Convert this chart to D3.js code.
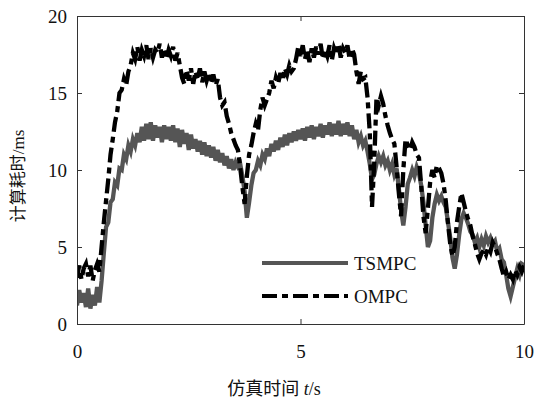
<!DOCTYPE html>
<html>
<head>
<meta charset="utf-8">
<script src="https://cdn.jsdelivr.net/npm/d3@7"></script>
<style>
  body { margin: 0; background: #fff; }
  svg text { font-family: "Liberation Serif", "Times New Roman", "Noto Sans CJK SC", serif; fill: #111; }
</style>
</head>
<body>
<svg id="chart" width="543" height="401"></svg>
<script>
// sample step of the simulation time axis (s)
const timeStep = 0.05;

// TSMPC computation time (ms), one value every 0.05 s from 0 to 10 s
const tsmpc = [
  1.2, 2.2, 1.4, 2.0, 1.1, 2.3, 1.0, 1.9, 1.2, 2.4, 1.4, 2.8, 4.6, 6.3, 6.6, 7.9, 8.1, 9.2, 9.0, 10.1,
  10.0, 11.0, 10.7, 11.6, 11.2, 12.0, 11.6, 12.4, 11.8, 12.8, 11.9, 13.0, 12.0, 13.1, 11.9, 12.9, 12.1, 12.8, 11.8, 12.9,
  12.0, 12.8, 11.9, 12.9, 11.8, 12.7, 11.5, 12.6, 11.7, 12.4, 11.3, 12.3, 11.4, 12.0, 11.2, 11.9, 11.0, 11.8, 10.9, 11.6,
  10.8, 11.5, 10.6, 11.3, 10.5, 11.1, 10.3, 10.9, 10.1, 10.7, 10.0, 10.5, 10.2, 10.4, 9.6, 8.6, 6.9, 7.9, 9.0, 9.8,
  10.0, 10.6, 10.3, 11.0, 10.7, 11.4, 10.9, 11.7, 11.2, 11.9, 11.3, 12.1, 11.5, 12.3, 11.6, 12.4, 11.8, 12.5, 11.9, 12.6,
  12.0, 12.7, 11.9, 12.8, 12.1, 12.9, 12.0, 12.8, 12.2, 13.0, 12.1, 12.9, 12.3, 13.1, 12.2, 13.0, 12.3, 13.2, 12.2, 13.0,
  12.3, 13.1, 12.2, 12.9, 12.0, 12.6, 11.8, 12.2, 11.6, 11.9, 11.2, 10.4, 9.4, 9.7, 10.4, 10.9, 10.5, 10.9, 10.3, 10.6,
  10.0, 10.4, 9.7, 10.1, 8.8, 7.4, 6.4, 7.6, 9.1, 9.5, 10.0, 9.6, 10.2, 9.8, 9.0, 7.9, 6.4, 5.0, 5.4, 6.9,
  7.8, 8.4, 8.0, 8.3, 7.9, 7.6, 6.6, 5.6, 4.3, 3.6, 4.5, 5.8, 6.8, 7.2, 6.9, 6.5, 6.0, 5.8, 5.3, 5.6,
  5.0, 5.5, 5.1, 5.7, 5.3, 5.6, 5.2, 5.4, 4.7, 4.9, 4.2, 4.0, 3.2, 2.3, 1.8, 2.4, 3.0, 3.6, 3.2, 3.9,
  3.8
];

// OMPC computation time (ms), same sampling
const ompc = [
  3.0, 3.8, 2.9, 3.6, 3.9, 3.1, 3.8, 2.8, 3.5, 3.9, 3.4, 5.0, 6.6, 8.0, 9.4, 11.0, 12.0, 13.1, 13.8, 15.0,
  15.2, 15.9, 15.5, 16.4, 16.8, 17.6, 17.2, 18.0, 17.1, 17.8, 17.4, 18.1, 17.2, 17.9, 17.3, 17.8, 17.6, 18.2, 17.3, 17.9,
  17.2, 17.8, 17.4, 18.0, 17.1, 17.6, 16.8, 16.0, 15.6, 16.5, 15.8, 16.6, 15.6, 16.4, 15.9, 16.6, 15.7, 16.4, 15.8, 16.3,
  15.6, 16.2, 15.5, 15.9, 14.7, 14.2, 14.4, 13.5, 13.0, 12.4, 12.0, 11.6, 11.3, 10.2, 8.9, 7.8, 9.6, 11.0, 11.6, 12.4,
  13.0, 12.6, 13.9, 14.7, 14.2, 14.6, 15.0, 15.8, 15.3, 16.0, 15.6, 16.3, 15.8, 16.6, 16.2, 16.8, 16.4, 16.6, 17.2, 18.0,
  17.4, 18.1, 17.2, 17.8, 17.0, 17.9, 17.3, 18.0, 17.5, 18.2, 17.2, 17.8, 17.4, 18.1, 17.1, 17.9, 17.5, 18.2, 17.3, 17.9,
  17.6, 18.1, 17.2, 17.9, 17.5, 16.4, 15.6, 16.4, 15.9, 16.0, 14.7, 12.4, 7.6, 10.5, 14.7, 14.2, 14.8, 14.3, 13.5, 12.9,
  12.4, 12.0, 11.7, 10.2, 8.5, 7.0, 10.0, 12.0, 11.6, 11.3, 11.8, 11.5, 11.0, 10.8, 9.0, 7.0, 5.9, 7.5, 9.2, 10.0,
  9.5, 10.3, 10.1, 9.8, 9.1, 8.0, 6.5, 5.2, 4.4, 5.0, 6.6, 7.6, 8.5, 7.9, 7.3, 6.8, 6.4, 5.7, 5.2, 4.6,
  4.2, 4.6, 4.8, 4.5, 5.0, 4.7, 5.3, 5.0, 4.6, 4.2, 3.6, 3.1, 3.4, 2.9, 3.2, 2.9, 3.5, 3.2, 3.7, 3.4,
  3.8
];

const xTicks = [0, 5, 10];
const yTicks = [0, 5, 10, 15, 20];
const seriesNames = ["TSMPC", "OMPC"];

const svg = d3.select("#chart");
const margin = { top: 16, right: 19, bottom: 77, left: 77 };
const width = 543, height = 401;

const x = d3.scaleLinear().domain([0, 10]).range([margin.left, width - margin.right]);
const y = d3.scaleLinear().domain([0, 20]).range([height - margin.bottom, margin.top]);

// clip lines to the plot box
svg.append("clipPath").attr("id", "plotClip")
  .append("rect")
  .attr("x", x(0)).attr("y", y(20))
  .attr("width", x(10) - x(0)).attr("height", y(0) - y(20));

const toPoints = arr => arr.map((v, i) => ({ t: i * timeStep, v: v }));
const line = d3.line().x(d => x(d.t)).y(d => y(d.v));

const styles = {
  TSMPC: { stroke: "#555", width: 4.3, dash: null },
  OMPC: { stroke: "#000", width: 4.3, dash: "15,5,6,5" }
};

const plot = svg.append("g").attr("clip-path", "url(#plotClip)");
plot.append("path")
  .datum(toPoints(tsmpc))
  .attr("fill", "none")
  .attr("stroke", styles.TSMPC.stroke)
  .attr("stroke-width", styles.TSMPC.width)
  .attr("d", line);
plot.append("path")
  .datum(toPoints(ompc))
  .attr("fill", "none")
  .attr("stroke", styles.OMPC.stroke)
  .attr("stroke-width", styles.OMPC.width)
  .attr("stroke-dasharray", styles.OMPC.dash)
  .attr("d", line);

// axes, ticks pointing inward
const axisStyle = g => {
  g.select(".domain").attr("stroke", "#333");
  g.selectAll(".tick line").attr("stroke", "#333");
  g.selectAll("text").attr("font-size", 19).attr("fill", "#111")
    .attr("font-family", "'Liberation Serif', 'Times New Roman', serif");
};

svg.append("g")
  .attr("transform", `translate(0,${y(0)})`)
  .call(d3.axisBottom(x).tickValues(xTicks).tickSizeInner(-5).tickSizeOuter(0).tickPadding(21))
  .call(axisStyle);
svg.append("g")
  .attr("transform", `translate(0,${y(20)})`)
  .call(d3.axisTop(x).tickValues(xTicks).tickSizeInner(-5).tickSizeOuter(0).tickFormat(""))
  .call(axisStyle);
svg.append("g")
  .attr("transform", `translate(${x(0)},0)`)
  .call(d3.axisLeft(y).tickValues(yTicks).tickSizeInner(-5).tickSizeOuter(0).tickPadding(10))
  .call(axisStyle);
svg.append("g")
  .attr("transform", `translate(${x(10)},0)`)
  .call(d3.axisRight(y).tickValues(yTicks).tickSizeInner(-5).tickSizeOuter(0).tickFormat(""))
  .call(axisStyle);

// axis titles
const xTitle = svg.append("text")
  .attr("x", 274).attr("y", 395)
  .attr("text-anchor", "middle")
  .attr("font-size", 18);
xTitle.append("tspan").text("仿真时间 ");
xTitle.append("tspan").attr("font-style", "italic").text("t");
xTitle.append("tspan").text("/s");

svg.append("text")
  .attr("transform", "translate(24,176) rotate(-90)")
  .attr("text-anchor", "middle")
  .attr("font-size", 17)
  .text("计算耗时/ms");

// legend
const legend = svg.append("g").selectAll("g")
  .data(seriesNames)
  .join("g")
  .attr("transform", (d, i) => `translate(262,${263 + i * 33})`);
legend.append("line")
  .attr("x1", 0).attr("x2", 86)
  .attr("stroke", d => styles[d].stroke)
  .attr("stroke-width", 4)
  .attr("stroke-dasharray", d => styles[d].dash);
legend.append("text")
  .attr("x", 92).attr("y", 7)
  .attr("font-size", 19)
  .text(d => d);
</script>
</body>
</html>
